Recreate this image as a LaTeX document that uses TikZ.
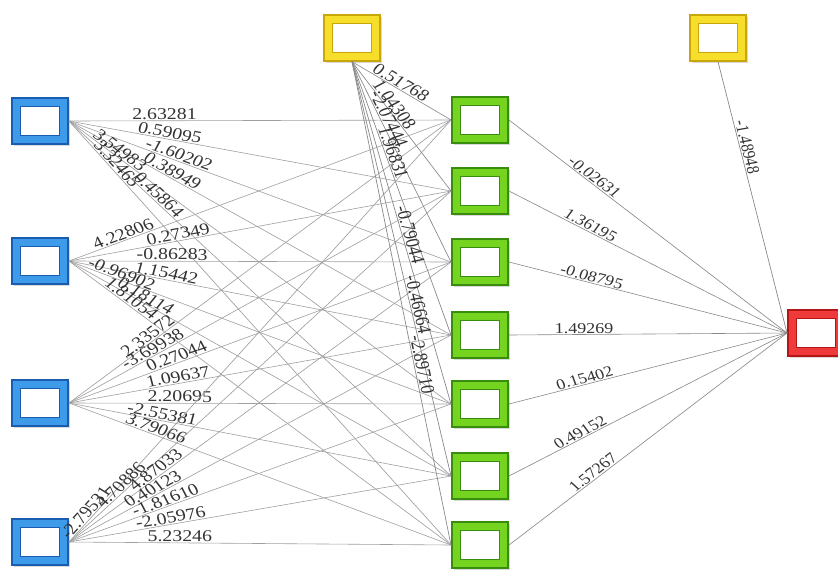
\documentclass[tikz,border=0pt]{standalone}
\usepackage{fontspec}
\setmainfont{Liberation Serif}
\usetikzlibrary{shadows}

\definecolor{blueband}{HTML}{3D9BE9}
\definecolor{bluedark}{HTML}{1A5DB0}
\definecolor{greenband}{HTML}{74D420}
\definecolor{greendark}{HTML}{3A8C0E}
\definecolor{yellowband}{HTML}{F6DE2A}
\definecolor{yellowdark}{HTML}{C9A60A}
\definecolor{redband}{HTML}{EE3A3A}
\definecolor{reddark}{HTML}{B41616}
\definecolor{edgegray}{HTML}{A0A0A0}
\definecolor{biasgray}{HTML}{8A8A8A}
\definecolor{wtext}{HTML}{333333}

\tikzset{
  unit/.style 2 args={rectangle, minimum width=47pt, minimum height=46pt,
    inner sep=0pt, fill=#1, draw=#2, line width=1.3pt,
    drop shadow={shadow xshift=1.5pt, shadow yshift=-2pt, opacity=0.3},
    path picture={\draw[#2, line width=1.1pt, fill=white]
      ([shift={(7.5pt,-8.5pt)}]path picture bounding box.north west) rectangle
      ([shift={(-7.5pt,8.5pt)}]path picture bounding box.south east);}},
  inunit/.style={unit={blueband}{bluedark}},
  hidunit/.style={unit={greenband}{greendark}},
  biasunit/.style={unit={yellowband}{yellowdark}},
  outunit/.style={unit={redband}{reddark}},
  edge/.style={draw=edgegray, line width=0.6pt},
  biasedge/.style={draw=biasgray, line width=0.6pt},
  wlbl/.style={sloped, above, inner sep=0.8pt, text=wtext,
    font=\fontsize{16.5}{16.5}\selectfont},
  olbl/.style={wlbl, font=\fontsize{15}{15}\selectfont},
}

\begin{document}
\begin{tikzpicture}
\useasboundingbox (0pt,0pt) rectangle (838pt,-571pt);
\begin{scope}[transform canvas={xscale=1.2}, x=0.833333pt, y=-1pt]
  % layers of units
  \node[inunit] (i1) at (40,121) {};
  \node[inunit] (i2) at (40,261) {};
  \node[inunit] (i3) at (40,403) {};
  \node[inunit] (i4) at (40,542) {};
  \node[biasunit] (b1) at (352,38) {};
  \node[biasunit] (b2) at (718,38) {};
  \node[hidunit] (h1) at (480,120) {};
  \node[hidunit] (h2) at (480,191) {};
  \node[hidunit] (h3) at (480,262) {};
  \node[hidunit] (h4) at (480,335) {};
  \node[hidunit] (h5) at (480,404) {};
  \node[hidunit] (h6) at (480,476) {};
  \node[hidunit] (h7) at (480,545) {};
  \node[outunit] (o) at (816,333) {};

  % first input
  \draw[edge] (i1.east) -- node[wlbl, pos=0.25] {2.63281} (h1.west);
  \draw[edge] (i1.east) -- node[wlbl, pos=0.26] {0.59095} (h2.west);
  \draw[edge] (i1.east) -- node[wlbl, pos=0.28] {-1.60202} (h3.west);
  \draw[edge] (i1.east) -- node[wlbl, pos=0.26] {0.38949} (h4.west);
  \draw[edge] (i1.east) -- node[wlbl, pos=0.12] {3.54983} (h5.west);
  \draw[edge] (i1.east) -- node[wlbl, pos=0.22] {0.45864} (h6.west);
  \draw[edge] (i1.east) -- node[wlbl, pos=0.11] {3.32465} (h7.west);
  % second input
  \draw[edge] (i2.east) -- node[wlbl, pos=0.15] {4.22806} (h1.west);
  \draw[edge] (i2.east) -- node[wlbl, pos=0.29] {0.27349} (h2.west);
  \draw[edge] (i2.east) -- node[wlbl, pos=0.27] {-0.86283} (h3.west);
  \draw[edge] (i2.east) -- node[wlbl, pos=0.25] {1.15442} (h4.west);
  \draw[edge] (i2.east) -- node[wlbl, pos=0.13] {-0.96902} (h5.west);
  \draw[edge] (i2.east) -- node[wlbl, pos=0.19] {0.18114} (h6.west);
  \draw[edge] (i2.east) -- node[wlbl, pos=0.15] {1.81054} (h7.west);
  % third input
  \draw[edge] (i3.east) -- node[wlbl, pos=0.22] {2.33572} (h1.west);
  \draw[edge] (i3.east) -- node[wlbl, pos=0.23] {-3.69938} (h2.west);
  \draw[edge] (i3.east) -- node[wlbl, pos=0.29] {0.27044} (h3.west);
  \draw[edge] (i3.east) -- node[wlbl, pos=0.29] {1.09637} (h4.west);
  \draw[edge] (i3.east) -- node[wlbl, pos=0.29] {2.20695} (h5.west);
  \draw[edge] (i3.east) -- node[wlbl, pos=0.24] {-2.55381} (h6.west);
  \draw[edge] (i3.east) -- node[wlbl, pos=0.22] {3.79066} (h7.west);
  % fourth input
  \draw[edge] (i4.east) -- node[wlbl, pos=0.06] {-2.79531} (h1.west);
  \draw[edge] (i4.east) -- node[wlbl, pos=0.15] {4.70886} (h2.west);
  \draw[edge] (i4.east) -- node[wlbl, pos=0.24] {4.87033} (h3.west);
  \draw[edge] (i4.east) -- node[wlbl, pos=0.23] {0.40123} (h4.west);
  \draw[edge] (i4.east) -- node[wlbl, pos=0.26] {-1.81610} (h5.west);
  \draw[edge] (i4.east) -- node[wlbl, pos=0.27] {-2.05976} (h6.west);
  \draw[edge] (i4.east) -- node[wlbl, pos=0.29] {5.23246} (h7.west);
  % hidden-layer bias
  \draw[biasedge] (b1.south) -- node[wlbl, pos=0.45] {0.51768} (h1.west);
  \draw[biasedge] (b1.south) -- node[wlbl, pos=0.36] {1.04308} (h2.west);
  \draw[biasedge] (b1.south) -- node[wlbl, pos=0.30] {-2.07444} (h3.west);
  \draw[biasedge] (b1.south) -- node[wlbl, pos=0.34] {1.96831} (h4.west);
  \draw[biasedge] (b1.south) -- node[wlbl, pos=0.51] {-0.79044} (h5.west);
  \draw[biasedge] (b1.south) -- node[wlbl, pos=0.59] {-0.46664} (h6.west);
  \draw[biasedge] (b1.south) -- node[wlbl, pos=0.63] {-2.89710} (h7.west);
  % hidden to output
  \draw[biasedge] (h1.east) -- node[olbl, pos=0.29] {-0.02631} (o.west);
  \draw[biasedge] (h2.east) -- node[olbl, pos=0.28] {1.36195} (o.west);
  \draw[biasedge] (h3.east) -- node[olbl, pos=0.29] {-0.08795} (o.west);
  \draw[biasedge] (h4.east) -- node[olbl, pos=0.27] {1.49269} (o.west);
  \draw[biasedge] (h5.east) -- node[olbl, pos=0.28] {0.15402} (o.west);
  \draw[biasedge] (h6.east) -- node[olbl, pos=0.27] {0.49152} (o.west);
  \draw[biasedge] (h7.east) -- node[olbl, pos=0.32] {1.57267} (o.west);
  % output bias
  \draw[biasedge] (b2.south) -- node[olbl, pos=0.32] {-1.48948} (o.west);
\end{scope}
\end{tikzpicture}
\end{document}
